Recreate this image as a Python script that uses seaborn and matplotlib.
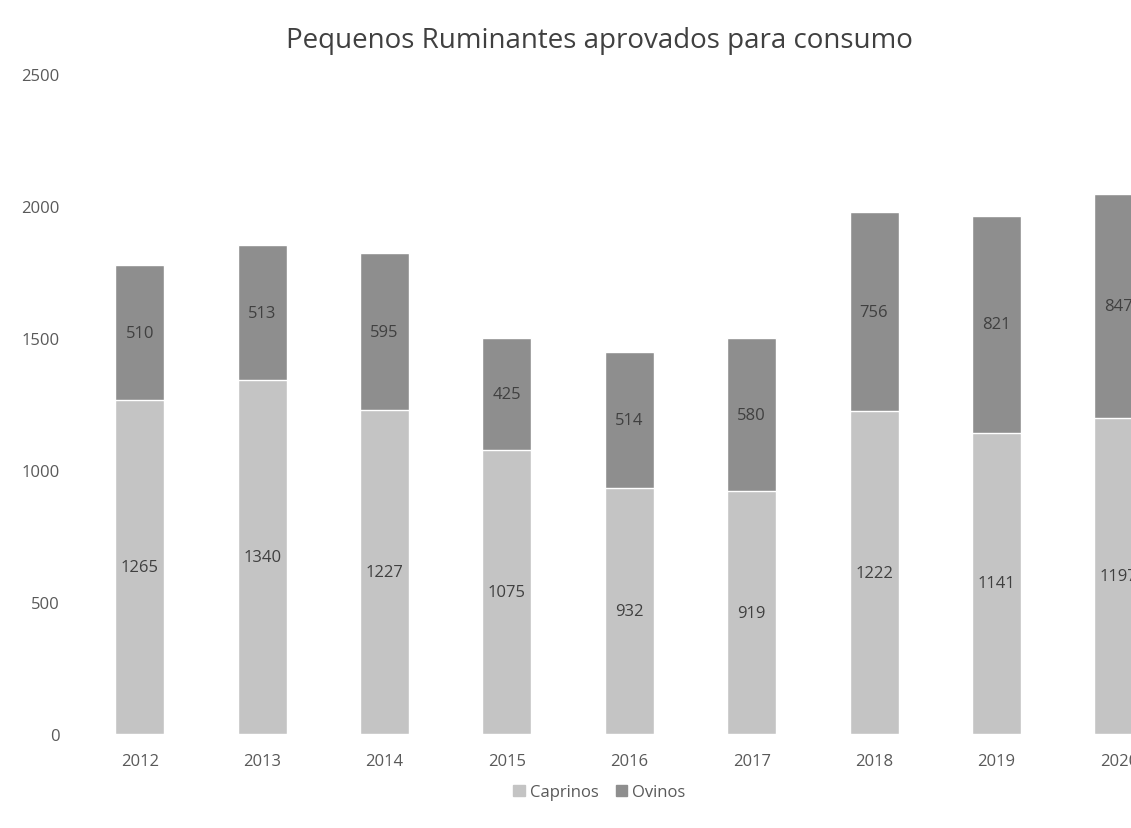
import pandas as pd
import numpy as np
import seaborn as sns
import matplotlib.pyplot as plt
from matplotlib.patches import Patch

# dados
anos = ['2012', '2013', '2014', '2015', '2016', '2017', '2018', '2019', '2020']
caprinos = [1265, 1340, 1227, 1075, 932, 919, 1222, 1141, 1197]
ovinos = [510, 513, 595, 425, 514, 580, 756, 821, 847]

df = pd.DataFrame({'ano': anos, 'Caprinos': caprinos, 'Ovinos': ovinos})
df['total'] = df['Caprinos'] + df['Ovinos']

sns.set_style('white')
plt.rcParams['font.family'] = ['Open Sans', 'DejaVu Sans']

cor_cap = '#c4c4c4'
cor_ovi = '#8e8e8e'
cor_txt = '#595959'

fig = plt.figure(figsize=(11.31, 8.29), dpi=100)
ax = fig.add_axes([0.075, 0.1134, 0.925, 0.796])

# barras empilhadas: total (ovinos) por baixo, caprinos por cima
sns.barplot(data=df, x='ano', y='total', color=cor_ovi, width=0.4, saturation=1, ax=ax)
sns.barplot(data=df, x='ano', y='Caprinos', color=cor_cap, width=0.4, saturation=1, ax=ax)

for i, (c, o) in enumerate(zip(caprinos, ovinos)):
    ax.text(i, c / 2, str(c), ha='center', va='center', fontsize=12, color='#404040')
    ax.text(i, c + o / 2, str(o), ha='center', va='center', fontsize=12, color='#404040')

ax.set_ylim(0, 2500)
ax.set_yticks(range(0, 2501, 500))
ax.set_xlim(-0.45, 8.1)
ax.set_xlabel('')
ax.set_ylabel('')
sns.despine(ax=ax, left=True, bottom=True)
ax.tick_params(axis='both', length=0, labelsize=12, labelcolor=cor_txt)
ax.tick_params(axis='x', pad=14)
ax.tick_params(axis='y', pad=18)

fig.suptitle('Pequenos Ruminantes aprovados para consumo', x=0.53, y=0.968,
             fontsize=20, color='#404040')

handles = [Patch(color=cor_cap, label='Caprinos'), Patch(color=cor_ovi, label='Ovinos')]
fig.legend(handles=handles, loc='center', bbox_to_anchor=(0.53, 0.043), ncol=2,
           frameon=False, fontsize=12, handlelength=0.7, handleheight=0.7,
           columnspacing=1.0, handletextpad=0.3, labelcolor=cor_txt)

fig.savefig('out.png', dpi=100)
